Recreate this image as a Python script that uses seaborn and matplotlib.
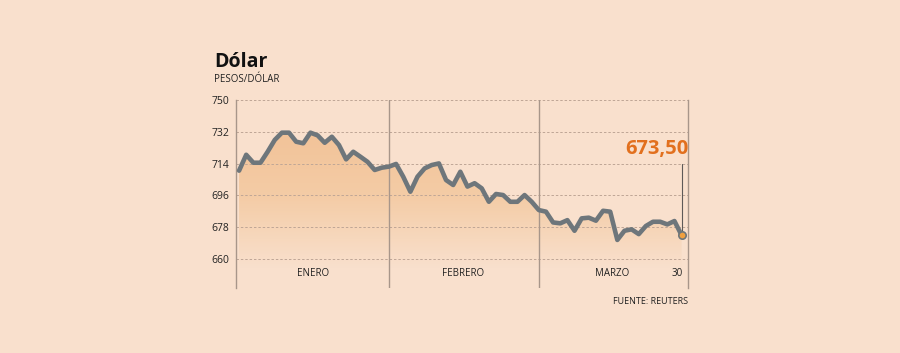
import numpy as np
import pandas as pd
import matplotlib
matplotlib.use("Agg")
import matplotlib.pyplot as plt
import seaborn as sns
from matplotlib.colors import LinearSegmentedColormap

# peso/dollar close, Jan 4 - Mar 30
valores = [710.0, 719.0, 714.5, 714.5, 720.7, 727.4, 731.5, 731.5, 726.4, 725.5,
           731.5, 730.0, 725.8, 729.2, 724.5, 716.4, 720.7, 717.9, 715.0, 710.4,
           711.7, 712.3,
           713.8, 706.6, 698.1, 706.6, 711.3, 713.2, 714.1, 704.7, 701.9, 709.4,
           701.0, 702.9, 700.0, 692.4, 696.8, 696.2, 692.4, 692.4, 696.2, 692.4,
           687.7, 686.8, 680.7, 680.2, 682.0, 676.0, 683.0, 683.4, 681.7, 687.3,
           686.8, 670.8, 676.0, 676.8, 674.1, 678.7, 681.1, 681.1, 679.6, 681.5,
           673.5]
meses = ["ENERO", "FEBRERO", "MARZO"]
yticks = [660, 678, 696, 714, 732, 750]
ultimo = "673,50"

df = pd.DataFrame({"dia": np.arange(len(valores)), "valor": valores})

BG = "#F9E0CD"
LINE = "#6E767B"
ORANGE = "#E2701E"
GRID = "#BFA696"

sns.set_style("white")
plt.rcParams["font.family"] = ["Open Sans", "DejaVu Sans"]

fig = plt.figure(figsize=(9, 3.53), dpi=100, facecolor=BG)
ax = fig.add_axes([236 / 900, 1 - 288 / 353, 452 / 900, 188 / 353])
ax.set_facecolor(BG)

n = len(valores)
x0, x1 = -0.43, n - 1 + 0.9
ybot = 643.6
ax.set_xlim(x0, x1)
ax.set_ylim(ybot, 750)

# gradient fill under the line
cmap = LinearSegmentedColormap.from_list("g", ["#F9E0CD", "#F4CCA6", "#F2C297"])
grad = np.linspace(0, 1, 256).reshape(-1, 1)
img = ax.imshow(grad, extent=[x0, x1, 655, 735], origin="lower", cmap=cmap,
                aspect="auto", zorder=1)
poly = ax.fill_between(df["dia"], df["valor"], ybot, color="none", zorder=1)
img.set_clip_path(poly.get_paths()[0], transform=ax.transData)

for t in yticks:
    ax.axhline(t, color=GRID, lw=0.7, ls=(0, (2.5, 2)), zorder=2)

# month separators
for b in [21.0, 42.0]:
    ax.axvline(b, color="#A8968A", lw=1, zorder=2)

sns.lineplot(data=df, x="dia", y="valor", ax=ax, color=LINE, lw=3.3,
             zorder=4, legend=False)

# last value marker + annotation
ax.plot([n - 1, n - 1], [valores[-1], 713.5], color="#5E5A58", lw=0.8, zorder=3)
ax.scatter([n - 1], [valores[-1]], s=28, color="#F0A040", edgecolor=LINE,
           linewidth=1.2, zorder=5)
ax.text(n - 1 + 0.9, 716.5, ultimo, color=ORANGE, fontsize=14.5, fontweight="bold",
        ha="right", va="bottom", family=["Open Sans", "DejaVu Sans"])

for sp in ["top", "bottom"]:
    ax.spines[sp].set_visible(False)
for sp in ["left", "right"]:
    ax.spines[sp].set_color("#A8968A")
    ax.spines[sp].set_linewidth(1)

ax.set_yticks(yticks)
ax.set_yticklabels([str(t) for t in yticks], fontsize=7.5, color="#222222")
ax.tick_params(axis="y", length=0, pad=5)
ax.set_xticks([])
ax.set_xlabel("")
ax.set_ylabel("")

centers = [10.36, 31.38, 52.25]
for c, m in zip(centers, meses):
    ax.text(c, 652, m, fontsize=7, ha="center", va="center", color="#222222")
ax.text(61.36, 652, "30", fontsize=7, ha="center", va="center", color="#222222")

fig.text(214 / 900, 1 - 62 / 353, "Dólar", fontsize=14, fontweight="bold",
         ha="left", va="center", color="#111111")
fig.text(214 / 900, 1 - 80 / 353, "PESOS/DÓLAR", fontsize=7, ha="left",
         va="center", color="#222222")
fig.text(688 / 900, 1 - 301 / 353, "FUENTE: REUTERS", fontsize=6.5, ha="right",
         va="center", color="#222222")

fig.savefig("out.png", dpi=100, facecolor=BG)
